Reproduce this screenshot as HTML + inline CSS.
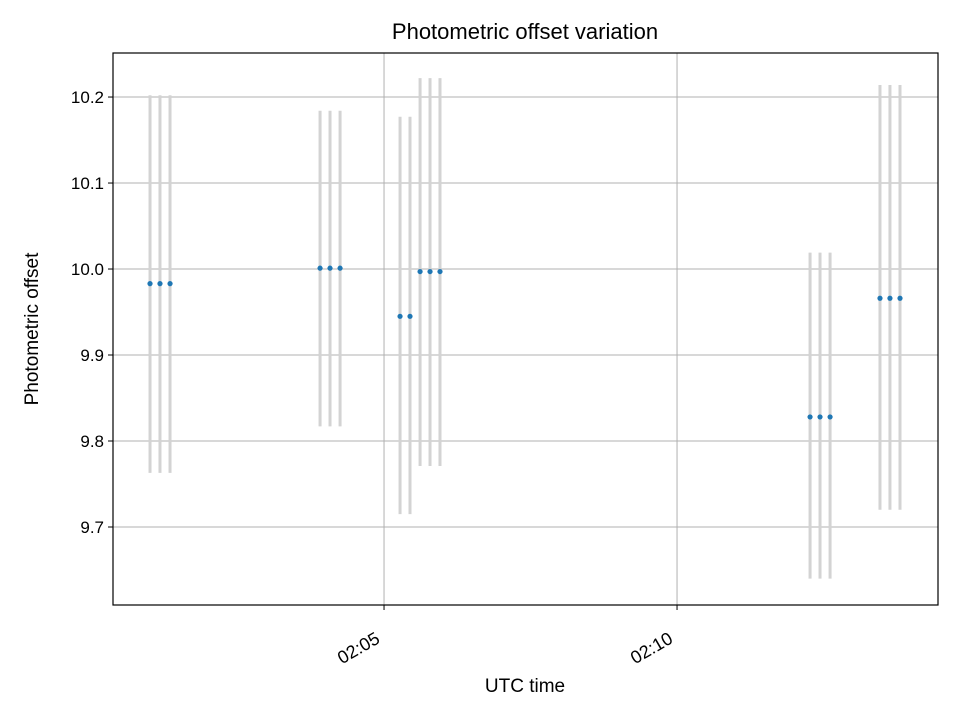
<!DOCTYPE html>
<html><head><meta charset="utf-8"><style>
body{margin:0;background:#fff;}
svg{display:block;font-family:"Liberation Sans","DejaVu Sans",sans-serif;}
</style></head><body>
<svg id="chart" width="960" height="720">
<rect width="960" height="720" fill="#fff"/>
<g id="grid"></g>
<g id="bars"></g>
<g id="pts"></g>
<rect x="113" y="53" width="825" height="552" fill="none" stroke="#000" stroke-width="1.2"/>
<g id="axes"></g>
<text x="525" y="39" text-anchor="middle" font-size="22">Photometric offset variation</text>
<text x="525" y="692" text-anchor="middle" font-size="19">UTC time</text>
<text transform="translate(38,329) rotate(-90)" text-anchor="middle" font-size="19">Photometric offset</text>
</svg>
<script>
// seconds after 02:00:00
const times=[60.4,70.6,80.9,234.5,244.7,255,316.4,326.6,336.9,347.1,357.3,736.2,746.4,756.7,807.8,818,828.3];
const values=[9.983,9.983,9.983,10.001,10.001,10.001,9.945,9.945,9.997,9.997,9.997,9.828,9.828,9.828,9.966,9.966,9.966];
const errTop=[10.202,10.202,10.202,10.184,10.184,10.184,10.177,10.177,10.222,10.222,10.222,10.019,10.019,10.019,10.214,10.214,10.214];
const errBottom=[9.763,9.763,9.763,9.817,9.817,9.817,9.715,9.715,9.771,9.771,9.771,9.640,9.640,9.640,9.720,9.720,9.720];
const yTicks=[9.7,9.8,9.9,10.0,10.1,10.2];
const yTickLabels=["9.7","9.8","9.9","10.0","10.1","10.2"];
const xTicks=[300,600];
const xTickLabels=["02:05","02:10"];
const X0=113,X1=938,Y0=53,Y1=605,xmin=22.5,xmax=867.2,ymin=9.6093,ymax=10.2512;
const sx=v=>X0+(v-xmin)/(xmax-xmin)*(X1-X0);
const sy=v=>Y1-(v-ymin)/(ymax-ymin)*(Y1-Y0);
const NS="http://www.w3.org/2000/svg";
function mk(tag,attrs,parent){const e=document.createElementNS(NS,tag);for(const k in attrs)e.setAttribute(k,attrs[k]);document.getElementById(parent).appendChild(e);return e;}
yTicks.forEach((t,i)=>{const y=sy(t);
 const g=mk('line',{x1:X0,x2:X1,y1:y,y2:y,stroke:'#b0b0b0','stroke-width':1},'grid');
 
 
 const tk=mk('line',{x1:X0-5,x2:X0,y1:y,y2:y,stroke:'#000','stroke-width':1},'axes');
 
 
 const tx=mk('text',{x:X0-9,y:y+6,'text-anchor':'end','font-size':17},'axes');
 tx.textContent=yTickLabels[i];
 
 
});
xTicks.forEach((t,i)=>{const x=sx(t);
 const g=mk('line',{x1:x,x2:x,y1:Y0,y2:Y1,stroke:'#b0b0b0','stroke-width':1},'grid');
 
 
 const tk=mk('line',{x1:x,x2:x,y1:Y1,y2:Y1+5,stroke:'#000','stroke-width':1},'axes');
 
 
 const tx=mk('text',{transform:`translate(${x-3},${Y1+37}) rotate(-30)`,'text-anchor':'end','font-size':18},'axes');
 tx.textContent=xTickLabels[i];
 
 
});
times.forEach((t,i)=>{const x=sx(t);
 const b=mk('line',{x1:x,x2:x,y1:sy(errTop[i]),y2:sy(errBottom[i]),stroke:'#d3d3d3','stroke-width':3},'bars');
 
 
 const p=mk('circle',{cx:x,cy:sy(values[i]),r:2.6,fill:'#1f77b4'},'pts');
 
 
});
</script>
</body></html>
